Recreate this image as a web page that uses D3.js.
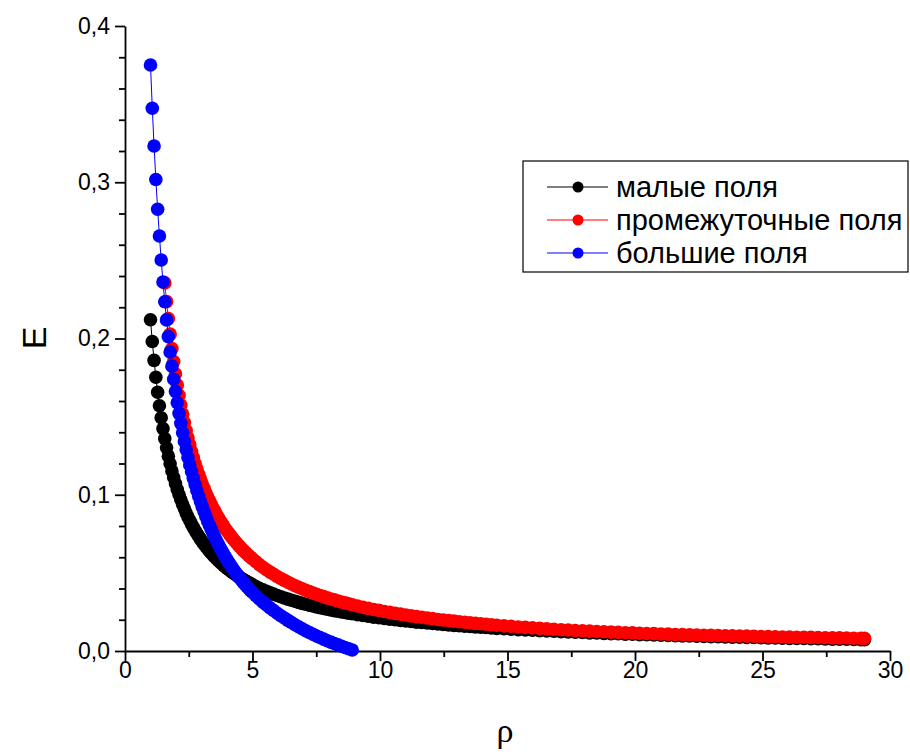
<!DOCTYPE html>
<html>
<head>
<meta charset="utf-8">
<script src="https://d3js.org/d3.v7.min.js"></script>
<style>
  body { margin: 0; background: #fff; }
  text { font-family: "Liberation Sans", Arial, sans-serif; }
</style>
</head>
<body>
<svg id="chart" width="910" height="754"></svg>
<script>
// rho grid (shared by all three curves)
const rho = [1.00,1.07,1.14,1.21,1.28,1.35,1.42,1.49,1.56,1.63,1.70,1.77,1.84,1.91,1.98,2.05,2.12,2.19,2.26,2.33,2.40,2.47,2.54,2.61,2.68,2.75,2.82,2.89,2.96,3.03,3.10,3.17,3.24,3.31,3.38,3.45,3.52,3.59,3.66,3.73,3.80,3.87,3.94,4.01,4.08,4.15,4.22,4.29,4.36,4.43,4.50,4.57,4.64,4.71,4.78,4.85,4.92,4.99,
  5.13,5.27,5.41,5.55,5.69,5.83,5.97,6.11,6.25,6.39,6.53,6.67,6.81,6.95,7.09,7.23,7.37,7.51,7.65,7.79,7.93,8.07,8.21,8.35,8.49,8.63,8.77,8.91,
  9.12,9.33,9.54,9.75,9.96,10.17,10.38,10.59,10.80,11.01,11.22,11.43,11.64,11.85,12.06,12.27,12.48,12.69,12.90,13.11,13.32,13.53,13.74,13.95,14.16,14.37,14.58,
  14.86,15.14,15.42,15.70,15.98,16.26,16.54,16.82,17.10,17.38,17.66,17.94,18.22,18.50,18.78,19.06,19.34,19.62,19.90,20.18,20.46,20.74,21.02,21.30,21.58,21.86,22.14,22.42,22.70,22.98,23.26,23.54,23.82,24.10,24.38,24.66,24.94,25.22,25.50,25.78,26.06,26.34,26.62,26.90,27.18,27.46,27.74,28.02,28.30,28.58,28.86,29.00];

// малые поля
const eSmall = [0.2120,0.1981,0.1860,0.1752,0.1656,0.1570,0.1493,0.1423,0.1359,0.1301,0.1247,0.1198,0.1152,0.1110,0.1071,0.1034,0.1000,0.0968,0.0938,0.0910,0.0883,0.0858,0.0835,0.0812,0.0791,0.0771,0.0752,0.0734,0.0716,0.0700,0.0684,0.0669,0.0654,0.0640,0.0627,0.0614,0.0602,0.0591,0.0579,0.0568,0.0558,0.0548,0.0538,0.0529,0.0520,0.0511,0.0502,0.0494,0.0486,0.0479,0.0471,0.0464,0.0457,0.0450,0.0444,0.0437,0.0431,0.0425,
  0.0413,0.0402,0.0392,0.0382,0.0373,0.0364,0.0355,0.0347,0.0339,0.0332,0.0325,0.0318,0.0311,0.0305,0.0299,0.0293,0.0288,0.0282,0.0277,0.0272,0.0267,0.0263,0.0258,0.0254,0.0250,0.0246,0.0242,0.0238,
  0.0232,0.0227,0.0222,0.0217,0.0213,0.0208,0.0204,0.0200,0.0196,0.0193,0.0189,0.0185,0.0182,0.0179,0.0176,0.0173,0.0170,0.0167,0.0164,0.0162,0.0159,0.0157,0.0154,0.0152,0.0150,0.0148,0.0145,
  0.0143,0.0140,0.0137,0.0135,0.0133,0.0130,0.0128,0.0126,0.0124,0.0122,0.0120,0.0118,0.0116,0.0115,0.0113,0.0111,0.0110,0.0108,0.0107,0.0105,0.0104,0.0102,0.0101,0.0100,0.0098,0.0097,0.0096,0.0095,0.0093,0.0092,0.0091,0.0090,0.0089,0.0088,0.0087,0.0086,0.0085,0.0084,0.0083,0.0082,0.0081,0.0080,0.0080,0.0079,0.0078,0.0077,0.0076,0.0076,0.0075,0.0074,0.0073,0.0073];

// промежуточные поля (starts at rho = 1.56)
const eMid = [null,null,null,null,null,null,null,null,
  0.2356,0.2236,0.2127,0.2028,0.1936,0.1852,0.1774,0.1702,0.1636,0.1574,0.1516,0.1462,0.1411,0.1364,0.1319,0.1277,0.1238,0.1200,0.1165,0.1131,0.1100,0.1069,0.1041,0.1013,0.0987,0.0963,0.0939,0.0916,0.0895,0.0874,0.0854,0.0835,0.0817,0.0799,0.0782,0.0766,0.0751,0.0735,0.0721,0.0707,0.0694,0.0681,0.0668,0.0656,0.0644,0.0633,0.0622,0.0611,0.0601,0.0591,
  0.0572,0.0553,0.0536,0.0520,0.0505,0.0491,0.0477,0.0464,0.0452,0.0440,0.0429,0.0418,0.0408,0.0398,0.0389,0.0380,0.0371,0.0363,0.0355,0.0348,0.0340,0.0333,0.0327,0.0320,0.0314,0.0308,0.0302,0.0296,
  0.0288,0.0280,0.0273,0.0266,0.0260,0.0253,0.0247,0.0241,0.0236,0.0230,0.0225,0.0220,0.0216,0.0211,0.0207,0.0202,0.0198,0.0195,0.0191,0.0187,0.0184,0.0180,0.0177,0.0174,0.0171,0.0168,0.0165,
  0.0161,0.0158,0.0154,0.0151,0.0148,0.0145,0.0142,0.0139,0.0136,0.0134,0.0131,0.0129,0.0127,0.0125,0.0123,0.0121,0.0119,0.0117,0.0116,0.0114,0.0112,0.0111,0.0109,0.0108,0.0106,0.0105,0.0104,0.0102,0.0101,0.0100,0.0099,0.0098,0.0097,0.0096,0.0095,0.0094,0.0093,0.0092,0.0091,0.0090,0.0089,0.0088,0.0088,0.0087,0.0086,0.0085,0.0084,0.0084,0.0083,0.0082,0.0082,0.0081];

// большие поля (ends near rho = 8.9)
const eLarge = [0.3750,0.3474,0.3232,0.3018,0.2827,0.2656,0.2502,0.2362,0.2235,0.2119,0.2012,0.1914,0.1823,0.1739,0.1661,0.1589,0.1521,0.1457,0.1397,0.1341,0.1288,0.1238,0.1191,0.1147,0.1105,0.1065,0.1026,0.0990,0.0956,0.0923,0.0891,0.0861,0.0832,0.0805,0.0779,0.0753,0.0729,0.0706,0.0683,0.0661,0.0641,0.0620,0.0601,0.0582,0.0564,0.0547,0.0530,0.0514,0.0498,0.0483,0.0468,0.0453,0.0439,0.0426,0.0413,0.0400,0.0388,0.0376,
  0.0354,0.0333,0.0313,0.0294,0.0276,0.0259,0.0242,0.0226,0.0211,0.0196,0.0182,0.0168,0.0155,0.0142,0.0130,0.0118,0.0107,0.0096,0.0086,0.0076,0.0066,0.0057,0.0048,0.0039,0.0030,0.0022,0.0014,0.0006];

const seriesNames = ["малые поля", "промежуточные поля", "большие поля"];
const seriesColors = ["#000000", "#ff0000", "#0000ff"];
const xTicks = [0, 5, 10, 15, 20, 25, 30];
const yTicks = [0, 0.1, 0.2, 0.3, 0.4];

const svg = d3.select("#chart");
const x = d3.scaleLinear().domain([0, 30]).range([125, 890]);
const y = d3.scaleLinear().domain([0, 0.4]).range([651, 26]);
const comma = d => d3.format(".1f")(d).replace(".", ",");

// minor ticks
const xMinor = d3.range(2.5, 30, 5);
const yMinor = d3.range(0, 0.401, 0.02).filter(v => Math.abs(v * 10 - Math.round(v * 10)) > 1e-6);
svg.append("g").attr("transform", "translate(0,651)")
  .call(d3.axisBottom(x).tickValues(xMinor).tickSize(6).tickFormat("").tickSizeOuter(0))
  .call(g => g.select(".domain").remove());
svg.append("g").attr("transform", "translate(125,0)")
  .call(d3.axisLeft(y).tickValues(yMinor).tickSize(6).tickFormat("").tickSizeOuter(0))
  .call(g => g.select(".domain").remove());

const xAxis = svg.append("g").attr("transform", "translate(0,651)")
  .call(d3.axisBottom(x).tickValues(xTicks).tickSize(10).tickPadding(1).tickSizeOuter(0));
const yAxis = svg.append("g").attr("transform", "translate(125,0)")
  .call(d3.axisLeft(y).tickValues(yTicks).tickSize(10).tickPadding(5).tickSizeOuter(0).tickFormat(comma));
svg.selectAll(".tick line, .domain").attr("stroke", "#000").attr("stroke-width", 1.8);
[xAxis, yAxis].forEach(g => g.selectAll("text")
  .attr("font-size", 23).attr("fill", "#000")
  .attr("font-family", "'Liberation Sans', Arial, sans-serif"));

// axis titles
svg.append("text").attr("transform", "translate(46,338) rotate(-90)")
  .attr("text-anchor", "middle").attr("font-size", 34).text("E");
svg.append("text").attr("x", 505).attr("y", 742)
  .attr("text-anchor", "middle").attr("font-size", 34)
  .style("font-family", "'Liberation Serif', 'Times New Roman', serif").text("ρ");

// series
const seriesValues = [eSmall, eMid, eLarge];
const line = d3.line().x(d => x(d.r)).y(d => y(d.e));
seriesValues.forEach((vals, s) => {
  const pts = vals.map((e, i) => ({ r: rho[i], e: e })).filter(d => d.e !== null);
  const g = svg.append("g");
  g.append("path").datum(pts).attr("d", line)
    .attr("fill", "none").attr("stroke", seriesColors[s]).attr("stroke-width", 1);
  g.selectAll("circle").data(pts).join("circle")
    .attr("cx", d => x(d.r)).attr("cy", d => y(d.e)).attr("r", 6.8)
    .attr("fill", seriesColors[s]);
});

// legend
const leg = svg.append("g");
leg.append("rect").attr("x", 523).attr("y", 161).attr("width", 385).attr("height", 111)
  .attr("fill", "#fff").attr("stroke", "#000").attr("stroke-width", 1.2);
seriesNames.forEach((name, i) => {
  const cy = 187 + i * 33;
  leg.append("line").attr("x1", 547).attr("x2", 608).attr("y1", cy).attr("y2", cy)
    .attr("stroke", seriesColors[i]).attr("stroke-width", 1);
  leg.append("circle").attr("cx", 578).attr("cy", cy).attr("r", 5.5).attr("fill", seriesColors[i]);
  leg.append("text").attr("x", 616).attr("y", cy + 10).attr("font-size", 29).text(name);
});
</script>
</body>
</html>
